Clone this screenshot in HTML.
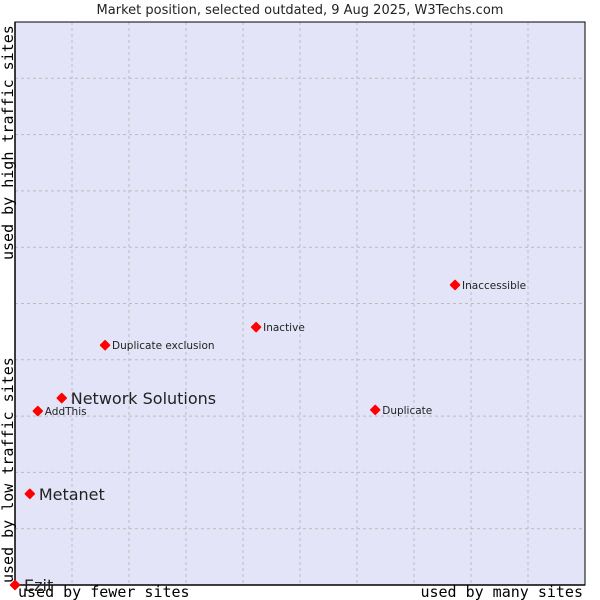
<!DOCTYPE html>
<html><head><meta charset="utf-8"><style>body{margin:0;background:#fff}svg{display:block}</style></head>
<body>
<svg id="chart" width="600" height="600" xmlns="http://www.w3.org/2000/svg" font-family="'DejaVu Sans', 'Liberation Sans', sans-serif">
<text x="300" y="14" text-anchor="middle" font-size="13" fill="#222">Market position, selected outdated, 9 Aug 2025, W3Techs.com</text>
<rect x="15" y="22" width="570" height="563" fill="#e4e4f8"/>
<g id="grid"></g>
<line x1="15" y1="22" x2="15" y2="585" stroke="#000" stroke-width="1.5"/>
<line x1="15" y1="585" x2="585" y2="585" stroke="#000" stroke-width="1.5"/>
<rect x="15" y="22" width="570" height="563" fill="none" stroke="#000" stroke-width="1"/>
<g font-family="'DejaVu Sans Mono','Liberation Mono',monospace" font-size="15" fill="#000">
<text x="18" y="597">used by fewer sites</text>
<text x="583" y="597" text-anchor="end">used by many sites</text>
<text transform="translate(13,583) rotate(-90)">used by low traffic sites</text>
<text transform="translate(13,260) rotate(-90)">used by high traffic sites</text>
</g>
<g id="points"></g>
</svg>
<script>
const names = ["Ezit","Metanet","Network Solutions","AddThis","Duplicate exclusion","Inactive","Duplicate","Inaccessible"];
const xValues = [0,2.6,8.2,4.0,15.8,42.3,63.2,77.2];
const yValues = [0,16.2,33.2,30.9,42.6,45.8,31.1,53.3];
const bigLabel = [true,true,true,false,false,false,false,false];
const NS="http://www.w3.org/2000/svg";
const X0=15,X1=585,Y0=585,Y1=22;
const sx=v=>X0+(X1-X0)*v/100, sy=v=>Y0-(Y0-Y1)*v/100;
const grid=document.getElementById('grid');
for(let i=1;i<10;i++){
  const v=document.createElementNS(NS,'line');
  
  
  v.setAttribute('x1',sx(i*10));v.setAttribute('x2',sx(i*10));v.setAttribute('y1',Y1);v.setAttribute('y2',Y0);
  v.setAttribute('stroke','#bbb');v.setAttribute('stroke-dasharray','3,3');grid.appendChild(v);
  const h=document.createElementNS(NS,'line');
  
  
  h.setAttribute('y1',sy(i*10));h.setAttribute('y2',sy(i*10));h.setAttribute('x1',X0);h.setAttribute('x2',X1);
  h.setAttribute('stroke','#bbb');h.setAttribute('stroke-dasharray','3,3');grid.appendChild(h);
}
const pts=document.getElementById('points');
names.forEach((n,i)=>{
  const x=sx(xValues[i]),y=sy(yValues[i]);
  const d=document.createElementNS(NS,'path');
  
  
  d.setAttribute('d',`M${x} ${y-4.5}L${x+4.5} ${y}L${x} ${y+4.5}L${x-4.5} ${y}Z`);
  d.setAttribute('fill','#f00');d.setAttribute('stroke','#f00');d.setAttribute('stroke-width','1.5');d.setAttribute('stroke-linejoin','round');
  pts.appendChild(d);
  const t=document.createElementNS(NS,'text');
  
  
  t.setAttribute('x',x+(bigLabel[i]?9:7));t.setAttribute('y',y+(bigLabel[i]?6:4));
  t.setAttribute('font-size',bigLabel[i]?16:10.5);t.setAttribute('fill','#222');
  t.textContent=n;pts.appendChild(t);
});
</script>
</body></html>
